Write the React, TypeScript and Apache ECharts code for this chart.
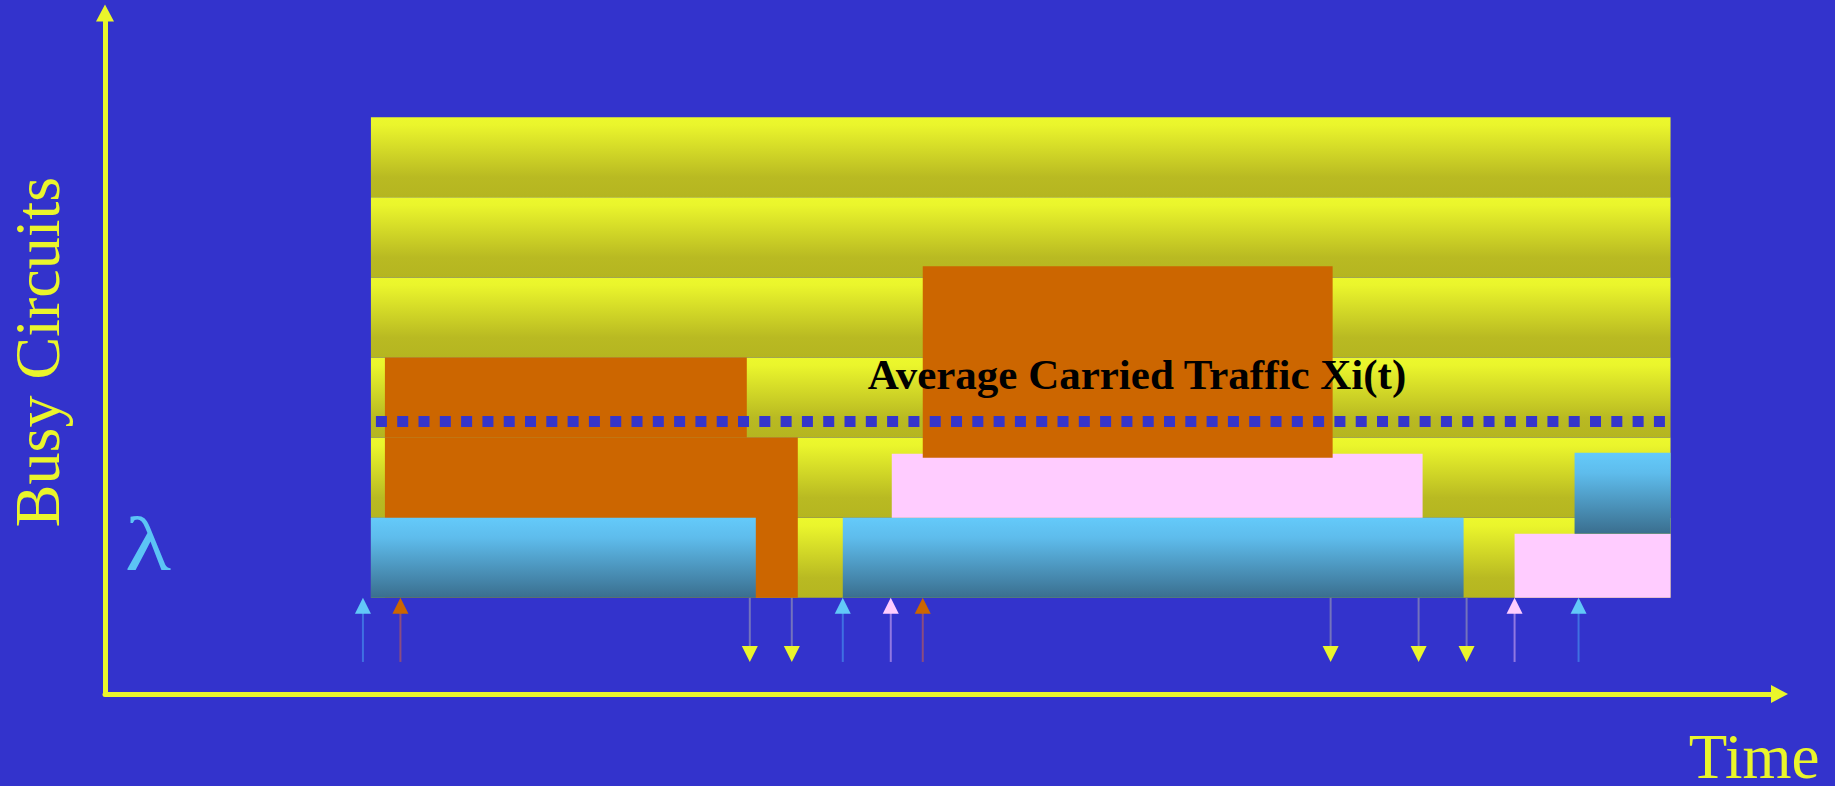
import React, { useEffect, useRef } from "react";
import * as echarts from "echarts";

// Palette
const BG = "#3333CC";
const AXIS_YELLOW = "#EAF52B";
const ORANGE = "#CC6600";
const PINK = "#FFCCFF";
const CYAN_TOP = "#64CAFA";
const CYAN_BOTTOM = "#3A6E8E";

// Time axis (arbitrary units) and circuit axis (one unit per circuit)
const timeMin = 0;
const timeMax = 167.5;
const circuitMin = -1.2;
const circuitMax = 7.3;

// Observation window and the six circuit rows
const windowStart = 26.6;
const windowEnd = 156.6;
const circuitRows = [0, 1, 2, 3, 4, 5];

// Call holding periods, drawn in this order
const callKind = ["orange", "orange", "cyan", "cyan", "pink", "orange", "pink", "cyan"];
const callStart = [28.0, 28.0, 26.6, 73.8, 78.7, 81.8, 141.0, 147.0];
const callEnd = [69.3, 64.2, 65.1, 135.9, 131.8, 122.8, 156.6, 156.6];
const callLow = [0, 2, 0, 0, 1.0, 1.75, 0, 0.8];
const callHigh = [2, 3, 1, 1, 1.8, 4.14, 0.8, 1.81];

// Call arrivals (upward arrows) and departures (downward arrows)
const arrivalTimes = [25.8, 29.55, 73.8, 78.6, 81.8, 141.0, 147.4];
const arrivalKind = ["cyan", "orange", "cyan", "pink", "orange", "pink", "cyan"];
const departureTimes = [64.5, 68.7, 122.6, 131.4, 136.2];
const arrowFoot = -0.8;

// Average carried traffic level
const averageTraffic = 2.2;
const averageFrom = 27.1;
const averageTo = 156.3;

const headColor: Record<string, string> = { cyan: "#62C8F8", orange: ORANGE, pink: PINK };
const shaftColor: Record<string, string> = { cyan: "#3F70E2", orange: "#8A4C80", pink: "#9178E2" };

function fillFor(kind: string) {
  if (kind === "cyan") {
    return new echarts.graphic.LinearGradient(0, 0, 0, 1, [
      { offset: 0, color: CYAN_TOP },
      { offset: 0.25, color: "#5EBCEC" },
      { offset: 1, color: CYAN_BOTTOM },
    ]);
  }
  return kind === "orange" ? ORANGE : PINK;
}

function bandFill() {
  return new echarts.graphic.LinearGradient(0, 0, 0, 1, [
    { offset: 0, color: "#ECF82D" },
    { offset: 0.1, color: "#EAF52C" },
    { offset: 0.75, color: "#B9BA22" },
    { offset: 1, color: "#B5B520" },
  ]);
}

export default function App() {
  const ref = useRef<HTMLDivElement>(null);

  useEffect(() => {
    if (!ref.current) return;
    const chart = echarts.init(ref.current, undefined, { renderer: "svg" });

    const rectItem = (api: any, x0: number, x1: number, y0: number, y1: number, fill: any) => {
      const a = api.coord([x0, y1]);
      const b = api.coord([x1, y0]);
      return {
        type: "rect",
        shape: { x: a[0], y: a[1], width: b[0] - a[0], height: b[1] - a[1] },
        style: { fill },
      };
    };

    const axisCommon = {
      axisLine: {
        show: true,
        onZero: false,
        symbol: ["none", "triangle"],
        symbolSize: [18, 17],
        lineStyle: { color: AXIS_YELLOW, width: 5 },
      },
      axisTick: { show: false },
      axisLabel: { show: false },
      splitLine: { show: false },
    };

    const option: any = {
      animation: false,
      backgroundColor: BG,
      grid: { left: 105, right: 55.5, top: 13, bottom: 92 },
      xAxis: { type: "value", min: timeMin, max: timeMax, ...axisCommon },
      yAxis: { type: "value", min: circuitMin, max: circuitMax, ...axisCommon },
      series: [
        {
          name: "circuits",
          type: "custom",
          silent: true,
          encode: { x: [0, 1], y: [2, 3] },
          data: circuitRows.map((r) => [windowStart, windowEnd, r, r + 1]),
          renderItem: (_p: any, api: any) =>
            rectItem(api, api.value(0), api.value(1), api.value(2), api.value(3), bandFill()),
        },
        {
          name: "calls",
          type: "custom",
          silent: true,
          encode: { x: [0, 1], y: [2, 3] },
          data: callStart.map((s, i) => [s, callEnd[i], callLow[i], callHigh[i]]),
          renderItem: (p: any, api: any) =>
            rectItem(api, api.value(0), api.value(1), api.value(2), api.value(3), fillFor(callKind[p.dataIndex])),
        },
        {
          name: "Average Carried Traffic",
          type: "line",
          silent: true,
          symbol: "none",
          data: [
            [averageFrom, averageTraffic],
            [averageTo, averageTraffic],
          ],
          lineStyle: { color: "#3535CB", width: 11, type: [11, 10.3], cap: "butt" },
        },
        {
          name: "arrivals",
          type: "custom",
          silent: true,
          encode: { x: 0, y: 1 },
          data: arrivalTimes.map((t) => [t, 0]),
          renderItem: (p: any, api: any) => {
            const kind = arrivalKind[p.dataIndex];
            const tip = api.coord([api.value(0), 0]);
            const foot = api.coord([api.value(0), arrowFoot]);
            return {
              type: "group",
              children: [
                {
                  type: "line",
                  shape: { x1: tip[0], y1: tip[1] + 14, x2: foot[0], y2: foot[1] },
                  style: { stroke: shaftColor[kind], lineWidth: 2 },
                },
                {
                  type: "polygon",
                  shape: {
                    points: [
                      [tip[0], tip[1]],
                      [tip[0] + 8, tip[1] + 16],
                      [tip[0] - 8, tip[1] + 16],
                    ],
                  },
                  style: { fill: headColor[kind] },
                },
              ],
            };
          },
        },
        {
          name: "departures",
          type: "custom",
          silent: true,
          encode: { x: 0, y: 1 },
          data: departureTimes.map((t) => [t, 0]),
          renderItem: (_p: any, api: any) => {
            const top = api.coord([api.value(0), 0]);
            const tip = api.coord([api.value(0), arrowFoot]);
            return {
              type: "group",
              children: [
                {
                  type: "line",
                  shape: { x1: top[0], y1: top[1], x2: tip[0], y2: tip[1] - 14 },
                  style: { stroke: "#7373BD", lineWidth: 2 },
                },
                {
                  type: "polygon",
                  shape: {
                    points: [
                      [tip[0], tip[1]],
                      [tip[0] + 8, tip[1] - 16],
                      [tip[0] - 8, tip[1] - 16],
                    ],
                  },
                  style: { fill: AXIS_YELLOW },
                },
              ],
            };
          },
        },
      ],
      graphic: [
        {
          type: "text",
          x: 37,
          y: 352,
          rotation: Math.PI / 2,
          style: {
            text: "Busy Circuits",
            fill: AXIS_YELLOW,
            fontFamily: "Liberation Serif",
            fontSize: 64,
            align: "center",
            verticalAlign: "middle",
          },
        },
        {
          type: "text",
          x: 1754,
          y: 757,
          style: {
            text: "Time",
            fill: AXIS_YELLOW,
            fontFamily: "Liberation Serif",
            fontSize: 63,
            align: "center",
            verticalAlign: "middle",
          },
        },
        {
          type: "text",
          x: 148,
          y: 544,
          scaleX: 1.25,
          style: {
            text: "λ",
            fill: "#5CC4F5",
            fontFamily: "Liberation Serif",
            fontSize: 76,
            align: "center",
            verticalAlign: "middle",
          },
        },
        {
          type: "text",
          x: 1137,
          y: 374,
          z: 100,
          style: {
            text: "Average Carried Traffic Xi(t)",
            fill: "#000000",
            fontFamily: "Liberation Serif",
            fontWeight: "bold",
            fontSize: 43,
            align: "center",
            verticalAlign: "middle",
          },
        },
      ],
    };

    chart.setOption(option);
    return () => chart.dispose();
  }, []);

  return (
    <div
      ref={ref}
      style={{ position: "absolute", left: 0, top: 0, width: 1835, height: 786 }}
    />
  );
}
